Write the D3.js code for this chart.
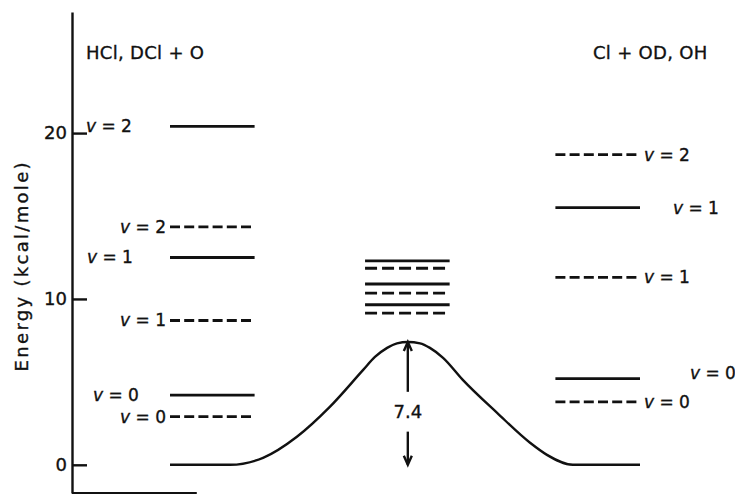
<!DOCTYPE html>
<html>
<head>
<meta charset="utf-8">
<script src="https://cdn.jsdelivr.net/npm/d3@7"></script>
<style>
  body { margin: 0; background: #fff; }
  svg { display: block; }
  text { font-family: "DejaVu Sans", sans-serif; fill: #111; stroke: #111; stroke-width: 0.35px; }
</style>
</head>
<body>
<svg id="chart"></svg>
<script>
// Energy levels, kcal/mole
const leftSolid = [4.2, 12.5, 20.4];      // HCl + O, v = 0,1,2
const leftDashed = [2.9, 8.7, 14.35];     // DCl + O, v = 0,1,2
const midSolid = [9.65, 10.9, 12.3];
const midDashed = [9.15, 10.35, 11.85];
const rightSolid = [5.2, 15.5];           // Cl + OH, v = 0,1
const rightDashed = [3.8, 11.3, 18.7];    // Cl + OD, v = 0,1,2
const barrier = 7.4;
const yTicks = [0, 10, 20];

// reaction path: coordinate (0..100) and energy
const pathU = [0, 12.8, 19.8, 27, 34, 41.1, 43.6, 46.2, 48.3, 50.6, 53.2, 55.3, 58.1, 62.3, 69.6, 76.6, 80.2, 85.7, 100];
const pathE = [0, 0, 0.42, 1.69, 3.49, 5.72, 6.5, 7.05, 7.32, 7.4, 7.32, 7.05, 6.45, 5.12, 3.13, 1.33, 0.6, 0, 0];

const width = 735, height = 497;
const axisX = 72;

const svg = d3.select("#chart").attr("width", width).attr("height", height);

const x = d3.scaleLinear().domain([0, 100]).range([170, 640]);
const y = d3.scaleLinear().domain([-1.7, 27.3]).range([493, 12]);

// spans of the three level columns on the reaction coordinate
const leftSpan = [0, 18], midSpan = [41.5, 59.5], rightSpan = [82, 100];

// y axis
svg.append("g")
  .attr("transform", `translate(${axisX},0)`)
  .call(d3.axisLeft(y).tickValues(yTicks).tickSizeInner(-15).tickSizeOuter(0).tickPadding(5))
  .call(g => g.selectAll("path, line").attr("stroke", "#111").attr("stroke-width", 2.4))
  .call(g => g.selectAll("text").attr("font-size", 18).attr("font-family", "DejaVu Sans").attr("fill", "#111"));

// short bottom stub of x axis
svg.append("line")
  .attr("x1", axisX).attr("x2", x(5.7))
  .attr("y1", y(-1.7)).attr("y2", y(-1.7))
  .attr("stroke", "#111").attr("stroke-width", 2.2);

svg.append("text")
  .attr("transform", `translate(28,${y(12)}) rotate(-90)`)
  .attr("text-anchor", "middle")
  .attr("font-size", 18)
  .attr("letter-spacing", 2.3)
  .text("Energy (kcal/mole)");

function levels(vals, span, dashed, dash) {
  svg.append("g").selectAll("line").data(vals).join("line")
    .attr("x1", x(span[0])).attr("x2", x(span[1]))
    .attr("y1", d => y(d)).attr("y2", d => y(d))
    .attr("stroke", "#111").attr("stroke-width", 2.8)
    .attr("stroke-dasharray", dashed ? dash : null);
}
levels(leftSolid, leftSpan, false);
levels(leftDashed, leftSpan, true, "10,4.2");
levels(midSolid, midSpan, false);
levels(midDashed, midSpan, true, "12,5");
levels(rightSolid, rightSpan, false);
levels(rightDashed, rightSpan, true, "10,4.2");

// reaction path
const line = d3.line().x(d => x(d[0])).y(d => y(d[1])).curve(d3.curveMonotoneX);
svg.append("path")
  .attr("d", line(d3.zip(pathU, pathE)))
  .attr("fill", "none").attr("stroke", "#111").attr("stroke-width", 2.4);

// v labels
function vLabel(px, py, v, anchor) {
  const t = svg.append("text")
    .attr("x", px).attr("y", py).attr("dy", "0.35em")
    .attr("font-size", 17)
    .attr("text-anchor", anchor || "start");
  t.append("tspan").attr("font-style", "italic").text("v");
  t.append("tspan").text(" = " + v);
}
const leftStarts = [93, 87, 86];
leftSolid.forEach((d, i) => vLabel(leftStarts[i], y(d), i));
leftDashed.forEach((d, i) => vLabel(x(leftSpan[0]) - 4, y(d), i, "end"));
rightDashed.forEach((d, i) => vLabel(x(rightSpan[1]) + 4, y(d), i));
const rightOffsets = [[50, -6], [33, 0]];
rightSolid.forEach((d, i) => vLabel(x(rightSpan[1]) + rightOffsets[i][0], y(d) + rightOffsets[i][1], i));

// titles
svg.append("text").attr("x", 86).attr("y", 53).attr("dy", "0.35em")
  .attr("font-size", 18).attr("letter-spacing", 0.3).text("HCl, DCl + O");
svg.append("text").attr("x", 593).attr("y", 53).attr("dy", "0.35em")
  .attr("font-size", 18).attr("letter-spacing", 0.3).text("Cl + OD, OH");

// barrier arrow
const ax = x(pathU[pathE.indexOf(barrier)]);
const yTop = y(barrier), yBot = y(0);
const arrow = svg.append("g").attr("stroke", "#111").attr("stroke-width", 2.4).attr("fill", "none");
arrow.append("line").attr("x1", ax).attr("x2", ax).attr("y1", yTop).attr("y2", y(4.4));
arrow.append("line").attr("x1", ax).attr("x2", ax).attr("y1", y(2.0)).attr("y2", yBot);
arrow.append("path").attr("d", `M${ax - 4},${yTop + 9}L${ax},${yTop}L${ax + 4},${yTop + 9}`);
arrow.append("path").attr("d", `M${ax - 4},${yBot - 9}L${ax},${yBot}L${ax + 4},${yBot - 9}`);
svg.append("text").attr("x", ax).attr("y", y(3.2)).attr("dy", "0.35em")
  .attr("text-anchor", "middle").attr("font-size", 18).text(barrier);
</script>
</body>
</html>
